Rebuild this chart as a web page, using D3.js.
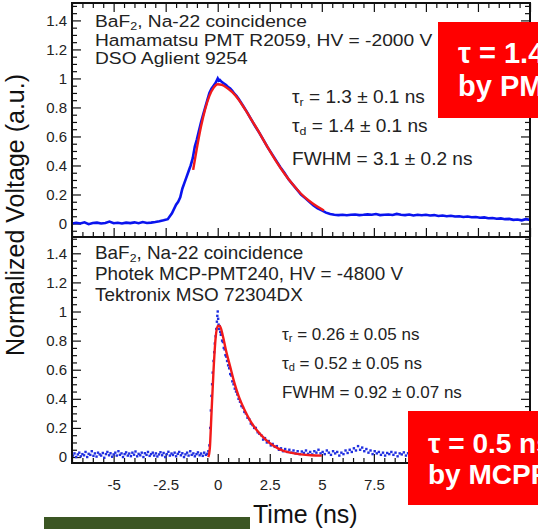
<!DOCTYPE html>
<html>
<head>
<meta charset="utf-8">
<script src="https://cdn.jsdelivr.net/npm/d3@7"></script>
<style>
  body { margin: 0; background: #fff; }
  text { font-family: "Liberation Sans", Arial, sans-serif; }
</style>
</head>
<body>
<svg width="538" height="529"></svg>
<script>
// tick values (labels past 7.5 sit under the red box, so they are left blank)
var xMajor = [-5, -2.5, 0, 2.5, 5, 7.5, 10, 12.5, 15];
var xLabelled = [-5, -2.5, 0, 2.5, 5, 7.5];
var xMinor = [-7, -6.5, -6, -5.5, -4.5, -4, -3.5, -3, -2, -1.5, -1, -0.5, 0.5, 1, 1.5, 2, 3, 3.5, 4, 4.5, 5.5, 6, 6.5, 7, 8, 8.5, 9, 9.5, 10.5, 11, 11.5, 12, 13, 13.5, 14, 14.5];
var yMajor = [0, 0.2, 0.4, 0.6, 0.8, 1, 1.2, 1.4];
var yMinor = [-0.05, 0.05, 0.1, 0.15, 0.25, 0.3, 0.35, 0.45, 0.5, 0.55, 0.65, 0.7, 0.75, 0.85, 0.9, 0.95, 1.05, 1.1, 1.15, 1.25, 1.3, 1.35, 1.45, 1.5];

// top panel: PMT R2059 waveform (blue) and fit (red)
var pmtData = [[-7.0,0.0],[-6.8,0.005],[-6.6,0.0],[-6.4,0.008],[-6.2,-0.005],[-6.0,0.003],[-5.8,0.006],[-5.6,0.0],[-5.4,0.004],[-5.2,0.013],[-5.0,0.002],[-4.8,0.005],[-4.6,0.0],[-4.4,0.006],[-4.2,0.003],[-4.0,0.008],[-3.8,0.002],[-3.6,0.01],[-3.4,0.004],[-3.2,0.006],[-3.0,0.01],[-2.8,0.015],[-2.6,0.022],[-2.4,0.03],[-2.2,0.07],[-2.0,0.13],[-1.9,0.15],[-1.8,0.18],[-1.7,0.24],[-1.6,0.28],[-1.5,0.32],[-1.4,0.36],[-1.3,0.4],[-1.2,0.45],[-1.1,0.53],[-1.0,0.58],[-0.9,0.64],[-0.8,0.7],[-0.7,0.75],[-0.6,0.8],[-0.5,0.85],[-0.4,0.9],[-0.3,0.93],[-0.2,0.95],[-0.1,0.97],[0.0,1.0],[0.05,0.985],[0.1,0.99],[0.2,0.975],[0.3,0.965],[0.4,0.955],[0.5,0.94],[0.6,0.93],[0.7,0.915],[0.8,0.895],[0.9,0.88],[1.0,0.86],[1.2,0.815],[1.4,0.77],[1.6,0.72],[1.8,0.67],[2.0,0.625],[2.2,0.575],[2.4,0.525],[2.6,0.48],[2.8,0.435],[3.0,0.39],[3.2,0.35],[3.4,0.305],[3.6,0.27],[3.8,0.235],[4.0,0.2],[4.2,0.175],[4.4,0.15],[4.6,0.125],[4.8,0.105],[5.0,0.09],[5.2,0.075],[5.4,0.065],[5.6,0.06],[5.8,0.058],[6.0,0.06],[6.2,0.057],[6.4,0.06],[6.6,0.062],[6.8,0.058],[7.0,0.06],[7.2,0.063],[7.4,0.06],[7.6,0.065],[7.8,0.058],[8.0,0.06],[8.2,0.062],[8.4,0.059],[8.6,0.066],[8.8,0.06],[9.0,0.058],[9.2,0.062],[9.4,0.055],[9.6,0.06],[9.8,0.057],[10.0,0.06],[10.2,0.055],[10.4,0.058],[10.6,0.052],[10.8,0.055],[11.0,0.05],[11.2,0.053],[11.4,0.048],[11.6,0.05],[11.8,0.045],[12.0,0.048],[12.2,0.043],[12.4,0.045],[12.6,0.04],[12.8,0.042],[13.0,0.036],[13.2,0.038],[13.4,0.033],[13.6,0.035],[13.8,0.03],[14.0,0.032],[14.2,0.025],[14.4,0.028],[14.6,0.022],[14.8,0.03],[15.0,0.025]];
var pmtFit = [[-1.18,0.37],[-1.0,0.52],[-0.8,0.67],[-0.6,0.79],[-0.4,0.88],[-0.2,0.935],[0.0,0.96],[0.2,0.955],[0.4,0.94],[0.7,0.905],[1.0,0.855],[1.3,0.79],[1.6,0.72],[2.0,0.625],[2.4,0.525],[2.8,0.43],[3.2,0.345],[3.6,0.27],[4.0,0.205],[4.4,0.155],[4.8,0.115],[5.1,0.09]];

// bottom panel: MCP-PMT240 samples (blue dots) and fit (red)
var mcpData = [[-6.95,0.01],[-6.88,0.025],[-6.8,0.0],[-6.72,0.018],[-6.65,0.03],[-6.58,0.005],[-6.5,0.02],[-6.42,0.012],[-6.35,0.035],[-6.27,0.0],[-6.2,0.022],[-6.12,0.015],[-6.05,0.04],[-5.97,0.008],[-5.9,0.025],[-5.82,0.003],[-5.75,0.03],[-5.67,0.018],[-5.6,0.01],[-5.52,0.028],[-5.45,-0.005],[-5.37,0.02],[-5.3,0.035],[-5.22,0.012],[-5.15,0.026],[-5.07,0.002],[-5.0,0.018],[-4.92,0.03],[-4.85,0.01],[-4.77,0.04],[-4.7,0.015],[-4.62,0.025],[-4.55,0.0],[-4.47,0.02],[-4.4,0.032],[-4.32,0.01],[-4.25,0.024],[-4.17,0.006],[-4.1,0.03],[-4.02,0.016],[-3.95,0.038],[-3.87,0.005],[-3.8,0.022],[-3.72,0.012],[-3.65,0.03],[-3.57,0.0],[-3.5,0.026],[-3.42,0.015],[-3.35,0.035],[-3.27,0.008],[-3.2,0.02],[-3.12,0.03],[-3.05,0.01],[-2.97,0.025],[-2.9,0.004],[-2.82,0.018],[-2.75,0.033],[-2.67,0.012],[-2.6,0.028],[-2.52,0.0],[-2.45,0.02],[-2.37,0.036],[-2.3,0.01],[-2.22,0.024],[-2.15,0.014],[-2.07,0.03],[-2.0,0.005],[-1.92,0.022],[-1.85,0.035],[-1.77,0.012],[-1.7,0.026],[-1.62,0.0],[-1.55,0.018],[-1.47,0.03],[-1.4,0.01],[-1.32,0.04],[-1.25,0.015],[-1.17,0.025],[-1.1,0.005],[-1.02,0.02],[-0.95,0.032],[-0.87,0.012],[-0.8,0.024],[-0.72,0.008],[-0.65,0.03],[-0.57,0.015],[-0.5,0.022],[-0.45,0.04],
  [-0.4,0.08],[-0.36,0.2],[-0.33,0.32],[-0.3,0.42],[-0.27,0.5],[-0.24,0.58],[-0.2,0.66],[-0.17,0.72],[-0.14,0.78],[-0.1,0.83],[-0.07,0.88],[-0.04,0.93],[-0.02,0.97],[0.0,1.0],[0.02,0.95],[0.04,0.91],[0.06,0.88],[0.09,0.9],[0.12,0.86],[0.15,0.84],[0.18,0.85],[0.21,0.8],[0.25,0.79],[0.29,0.75],[0.33,0.74],[0.37,0.7],[0.41,0.69],[0.45,0.66],[0.5,0.63],[0.55,0.61],[0.6,0.57],[0.65,0.56],[0.7,0.52],[0.76,0.5],[0.82,0.47],[0.88,0.45],[0.94,0.43],[1.0,0.4],[1.07,0.38],[1.14,0.35],[1.21,0.34],[1.28,0.31],[1.35,0.3],[1.43,0.27],[1.51,0.26],[1.59,0.23],[1.67,0.22],[1.75,0.2],[1.83,0.2],[1.92,0.17],[2.0,0.16],[2.09,0.15],[2.18,0.12],[2.27,0.13],[2.36,0.1],[2.45,0.11],[2.55,0.08],[2.64,0.09],[2.74,0.07],[2.84,0.075],[2.94,0.05],[3.04,0.06],[3.14,0.04],[3.24,0.055],[3.34,0.035],[3.44,0.05],[3.54,0.03],[3.64,0.045],[3.74,0.025],[3.84,0.04],[3.94,0.02],[4.04,0.038],[4.14,0.028],[4.24,0.045],[4.34,0.022],[4.44,0.035],[4.54,0.018],[4.64,0.04],[4.74,0.03],[4.84,0.05],[4.94,0.025],[5.04,0.035],[5.14,0.02],[5.24,0.045],[5.34,0.03],[5.44,0.015],[5.54,0.04],[5.64,0.025],[5.74,0.035],[5.84,0.01],[5.94,0.03],[6.04,0.02],[6.14,0.045],[6.24,0.028],[6.34,0.05],[6.44,0.035],[6.54,0.06],[6.64,0.045],[6.74,0.075],[6.84,0.05],[6.94,0.065],[7.04,0.04],[7.14,0.055],[7.24,0.03],[7.34,0.045],[7.44,0.02],[7.54,0.04],[7.64,0.025],[7.74,0.035],[7.84,0.015],[7.94,0.03],[8.04,0.01],[8.14,0.028],[8.24,0.02],[8.34,0.035],[8.44,0.015],[8.54,0.03],[8.64,0.005],[8.74,0.025],[8.84,0.018],[8.94,0.032],[9.04,0.01],[9.14,0.026],[9.4,0.02],[9.8,0.03],[10.3,0.015],[10.8,0.025],[11.5,0.02],[12.3,0.03],[13.1,0.015],[14.0,0.025],[14.8,0.02]];
var mcpFit = [[-0.45,0.0],[-0.38,0.06],[-0.3,0.3],[-0.2,0.6],[-0.1,0.82],[0.0,0.9],[0.1,0.9],[0.25,0.83],[0.4,0.73],[0.6,0.62],[0.8,0.51],[1.0,0.42],[1.3,0.32],[1.6,0.24],[1.9,0.18],[2.3,0.12],[2.7,0.075],[3.1,0.045],[3.5,0.03],[4.0,0.018],[4.5,0.012],[5.0,0.01]];

var svg = d3.select("svg");
var left = 72, right = 530;

var x = d3.scaleLinear().domain([-7, 15]).range([left, right]);
var yTop = d3.scaleLinear().domain([-0.093, 1.52]).range([237, 3]);
var yBot = d3.scaleLinear().domain([-0.041, 1.512]).range([463, 237]);

var fmt = function(d) { return String(d); };

function ticks(g, axis, values, size, labels, pad) {
  g.call(axis.tickValues(values).tickSize(size).tickPadding(pad || 0)
      .tickFormat(labels ? fmt : ""));
  g.select(".domain").remove();
  g.selectAll(".tick line").attr("stroke", "#111").attr("stroke-width", 1.2);
  g.selectAll(".tick text").attr("fill", "#222").attr("font-size", 15)
      .attr("font-family", "Liberation Sans, Arial, sans-serif");
}

function panel(y, clipId, top, bottom, xLabels) {
  svg.append("clipPath").attr("id", clipId)
    .append("rect").attr("x", left).attr("y", top)
    .attr("width", right - left).attr("height", bottom - top);

  var minor = yMinor.filter(function(v) { return y(v) > top + 1 && y(v) < bottom - 1; });
  // left / right
  ticks(svg.append("g").attr("transform", "translate(" + left + ",0)"), d3.axisLeft(y), yMajor, -9, true, 5);
  ticks(svg.append("g").attr("transform", "translate(" + left + ",0)"), d3.axisLeft(y), minor, -5, false);
  ticks(svg.append("g").attr("transform", "translate(" + right + ",0)"), d3.axisRight(y), yMajor, -9, false);
  ticks(svg.append("g").attr("transform", "translate(" + right + ",0)"), d3.axisRight(y), minor, -5, false);
  // bottom
  ticks(svg.append("g").attr("transform", "translate(0," + bottom + ")"), d3.axisBottom(x), xMajor, -9, false);
  ticks(svg.append("g").attr("transform", "translate(0," + bottom + ")"), d3.axisBottom(x), xMinor, -5, false);
  if (xLabels)
    ticks(svg.append("g").attr("transform", "translate(0," + bottom + ")"), d3.axisBottom(x), xLabelled, 0, true, 16);
}

panel(yTop, "clipTop", 3, 237, false);
panel(yBot, "clipBot", 237, 463, true);

// top edge ticks
ticks(svg.append("g").attr("transform", "translate(0,3)"), d3.axisTop(x), xMajor, -9, false);
ticks(svg.append("g").attr("transform", "translate(0,3)"), d3.axisTop(x), xMinor, -5, false);

var line = function(y) {
  return d3.line().x(function(d) { return x(d[0]); }).y(function(d) { return y(d[1]); });
};

// top curves
svg.append("g").attr("clip-path", "url(#clipTop)").append("path")
  .datum(pmtData).attr("d", line(yTop))
  .attr("fill", "none").attr("stroke", "#0a14ee").attr("stroke-width", 2.6);
svg.append("g").attr("clip-path", "url(#clipTop)").append("path")
  .datum(pmtFit).attr("d", line(yTop).curve(d3.curveMonotoneX))
  .attr("fill", "none").attr("stroke", "#f21a1a").attr("stroke-width", 2.4);

// bottom curves
svg.append("g").attr("clip-path", "url(#clipBot)").selectAll("rect")
  .data(mcpData).enter().append("rect")
  .attr("x", function(d) { return x(d[0]) - 1.2; })
  .attr("y", function(d) { return yBot(d[1]) - 1.2; })
  .attr("width", 2.4).attr("height", 2.4)
  .attr("fill", "#1f2fe0");
svg.append("g").attr("clip-path", "url(#clipBot)").append("path")
  .datum(mcpFit).attr("d", line(yBot).curve(d3.curveMonotoneX))
  .attr("fill", "none").attr("stroke", "#f21a1a").attr("stroke-width", 2.4);

// frames
svg.append("rect").attr("x", left).attr("y", 3).attr("width", right - left).attr("height", 460)
  .attr("fill", "none").attr("stroke", "#111").attr("stroke-width", 2);
svg.append("line").attr("x1", left).attr("x2", right).attr("y1", 237).attr("y2", 237)
  .attr("stroke", "#111").attr("stroke-width", 2);

// annotations; the figure's lettering is a little wider than Arial, hence the x-stretch
function note(xp, yp, parts, size, sx) {
  var t = svg.append("text")
    .attr("transform", "translate(" + xp + "," + yp + ") scale(" + (sx || 1) + ",1)")
    .attr("font-size", size).attr("fill", "#222");
  parts.forEach(function(p) {
    var s = t.append("tspan").text(p[0]);
    if (p[1] === "sub") s.attr("font-size", size * 0.65).attr("baseline-shift", "-22%");
  });
}

note(95, 27, [["BaF"], ["2", "sub"], [", Na-22 coincidence"]], 17, 1.13);
note(95, 46, [["Hamamatsu PMT R2059, HV = -2000 V"]], 17, 1.13);
note(95, 64, [["DSO Aglient 9254"]], 17, 1.13);
note(292, 103, [["τ"], ["r", "sub"], [" = 1.3 ± 0.1 ns"]], 18, 1.06);
note(292, 132, [["τ"], ["d", "sub"], [" = 1.4 ± 0.1 ns"]], 18, 1.06);
note(292, 165, [["FWHM = 3.1 ± 0.2 ns"]], 18, 1.06);

note(95, 259, [["BaF"], ["2", "sub"], [", Na-22 coincidence"]], 18, 1.05);
note(95, 280, [["Photek MCP-PMT240, HV = -4800 V"]], 18, 1.05);
note(95, 301, [["Tektronix MSO 72304DX"]], 18, 1.05);
note(282, 340, [["τ"], ["r", "sub"], [" = 0.26 ± 0.05 ns"]], 17);
note(282, 369, [["τ"], ["d", "sub"], [" = 0.52 ± 0.05 ns"]], 17);
note(282, 398, [["FWHM = 0.92 ± 0.07 ns"]], 17);

// axis titles
svg.append("text").attr("transform", "translate(24,215) rotate(-90)")
  .attr("text-anchor", "middle").attr("font-size", 25).attr("fill", "#111")
  .text("Normalized Voltage (a.u.)");
svg.append("text").attr("x", 253).attr("y", 523).attr("font-size", 25).attr("fill", "#111")
  .text("Time (ns)");

// red labels (cropped at the right edge, as in the figure)
svg.append("rect").attr("x", 438).attr("y", 22).attr("width", 100).attr("height", 96).attr("fill", "#ff0000");
svg.append("text").attr("x", 458).attr("y", 63).attr("font-size", 29).attr("font-weight", "bold").attr("fill", "#fff").text("τ = 1.4 ns");
svg.append("text").attr("x", 458).attr("y", 96).attr("font-size", 29).attr("font-weight", "bold").attr("fill", "#fff").text("by PMT");

svg.append("rect").attr("x", 408).attr("y", 411).attr("width", 130).attr("height", 94).attr("fill", "#ff0000");
svg.append("text").attr("x", 428).attr("y", 453).attr("font-size", 28).attr("font-weight", "bold").attr("fill", "#fff").text("τ = 0.5 ns");
svg.append("text").attr("x", 428).attr("y", 484).attr("font-size", 28).attr("font-weight", "bold").attr("fill", "#fff").text("by MCPPMT");

// green bar
svg.append("rect").attr("x", 44).attr("y", 517).attr("width", 206).attr("height", 12).attr("fill", "#3b5623");
</script>
</body>
</html>
